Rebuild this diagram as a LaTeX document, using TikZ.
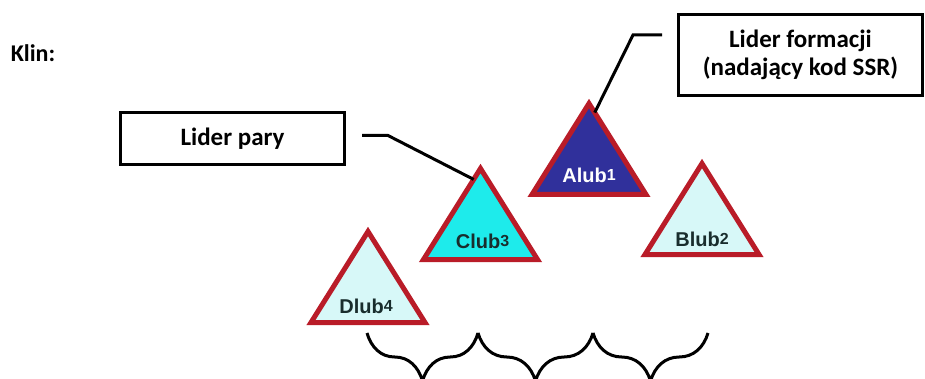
\documentclass[tikz,border=0pt]{standalone}
\usepackage{fontspec}
\setmainfont{Carlito}
\newfontfamily\arialfont{Liberation Sans}
\usetikzlibrary{calc,decorations.pathreplacing}

\definecolor{obrys}{RGB}{185,28,40}
\definecolor{granat}{RGB}{48,48,155}
\definecolor{turkus}{RGB}{30,235,235}
\definecolor{blekit}{RGB}{215,248,248}
\definecolor{napis}{RGB}{25,45,45}

\tikzset{
  ramka/.style={draw, line width=3pt, align=center, inner sep=0pt,
    font=\fontsize{25}{28}\selectfont\bfseries},
  trojkat/.style={draw=obrys, line width=5pt, line join=miter},
  etykieta/.style={inner sep=0pt, text=napis,
    font=\arialfont\fontsize{20}{20}\selectfont\bfseries},
  linia/.style={line width=3pt},
  klamra/.style={line width=3pt, decorate,
    decoration={brace, mirror, amplitude=48pt}}
}
\newcommand{\cyfra}[1]{\raisebox{2pt}{\fontsize{16}{16}\selectfont #1}}

\begin{document}
\begin{tikzpicture}[x=1pt, y=-1pt]
        \def \pol {57}
        \def \wys {91}
        \useasboundingbox (0,0) rectangle (925,379);

        \node[font=\fontsize{24}{28}\selectfont\bfseries] (klin) at (33,53) {Klin:};
        \node[ramka, minimum width=224pt, minimum height=52pt] (pary) at (232.5,138.5) {Lider pary};
        \node[ramka, minimum width=244pt, minimum height=81pt] (formacja) at (800.5,55) {Lider formacji\\(nadający kod SSR)};

        % trojkaty (srodek podstawy)
        \coordinate (A) at (589,194.5);
        \coordinate (B) at (702,254.5);
        \coordinate (C) at (480.5,259.5);
        \coordinate (D) at (368,322.5);

        \draw[trojkat, fill=granat] ($(A)+(-\pol,0)$) coordinate (Alewy) -- ($(A)+(0,-\wys)$) coordinate (Awierz) -- ($(A)+(\pol,0)$) coordinate (Aprawy) -- cycle;
        \draw[trojkat, fill=blekit] ($(B)+(-\pol,0)$) coordinate (Blewy) -- ($(B)+(0,-\wys)$) coordinate (Bwierz) -- ($(B)+(\pol,0)$) coordinate (Bprawy) -- cycle;
        \draw[trojkat, fill=turkus] ($(C)+(-\pol,0)$) coordinate (Clewy) -- ($(C)+(0,-\wys)$) coordinate (Cwierz) -- ($(C)+(\pol,0)$) coordinate (Cprawy) -- cycle;
        \draw[trojkat, fill=blekit] ($(D)+(-\pol,0)$) coordinate (Dlewy) -- ($(D)+(0,-\wys)$) coordinate (Dwierz) -- ($(D)+(\pol,0)$) coordinate (Dprawy) -- cycle;

        \node[etykieta, text=white] (Anapis) at ($(A)+(0,-19)$) {Alub\cyfra{1}};
        \node[etykieta] (Bnapis) at ($(B)+(0,-15)$) {Blub\cyfra{2}};
        \node[etykieta] (Cnapis) at ($(C)+(2,-18)$) {Club\cyfra{3}};
        \node[etykieta] (Dnapis) at ($(D)+(-2,-16)$) {Dlub\cyfra{4}};

        % odnosniki
        \draw[linia] ([xshift=16pt, yshift=3pt]pary.east) -- ++(26,0) -- ($(Cwierz)!0.12!(Clewy)$);
        \draw[linia] ([xshift=-15pt, yshift=20pt]formacja.west) -- ++(-29,0) -- ($(Awierz)!0.1!(Aprawy)$);

        % klamry
        \coordinate (k0) at (367,333);
        \coordinate (k1) at (478,333);
        \coordinate (k2) at (593,333);
        \coordinate (k3) at (708,333);
        \draw[klamra] (k0) -- (k1);
        \draw[klamra] (k1) -- (k2);
        \draw[klamra] (k2) -- (k3);
      \end{tikzpicture}
\end{document}
